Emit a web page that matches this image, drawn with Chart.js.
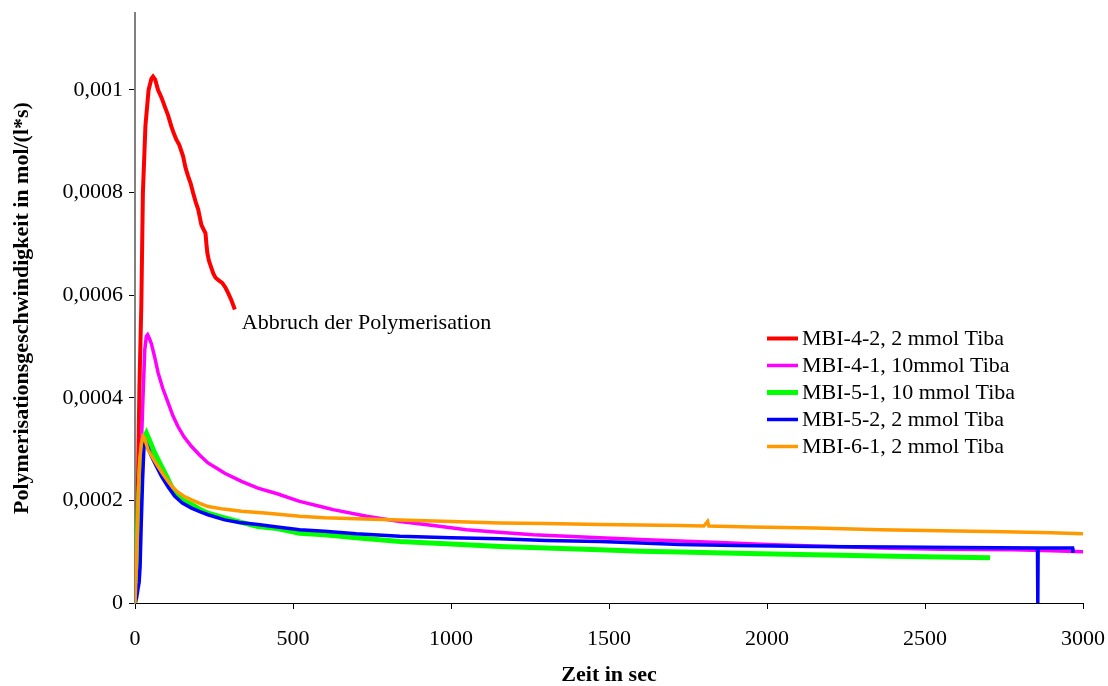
<!DOCTYPE html>
<html>
<head>
<meta charset="utf-8">
<script src="https://cdn.jsdelivr.net/npm/chart.js@4/dist/chart.umd.min.js"></script>
<style>
  html, body { margin: 0; padding: 0; background: #ffffff; }
  #wrap { width: 1108px; height: 686px; }
</style>
</head>
<body>
<div id="wrap"><canvas id="c" width="1108" height="686"></canvas></div>
<script>
// Reaktionszeit (s) und Polymerisationsgeschwindigkeit (mol/(l*s)) je Versuch
const mbi42X = [0, 4, 9, 14, 20, 25, 33, 43, 52, 57, 64, 73, 84, 94, 105, 115, 123, 131, 140, 152, 160, 168, 176, 184, 192, 200, 205, 210, 218, 223, 226, 229, 234, 240, 248, 255, 265, 276, 286, 295, 305, 316];
const mbi42Y = [0, 0.00005, 0.00022, 0.00042, 0.00058, 0.0008, 0.00093, 0.001, 0.001022, 0.001026, 0.00102, 0.001, 0.000985, 0.000968, 0.00095, 0.000929, 0.000915, 0.000903, 0.000893, 0.000871, 0.000848, 0.000832, 0.000818, 0.000799, 0.000782, 0.000767, 0.000752, 0.000737, 0.000727, 0.000721, 0.0007, 0.000682, 0.000667, 0.000656, 0.000642, 0.000634, 0.000629, 0.000624, 0.000615, 0.000604, 0.00059, 0.000572];

const mbi41X = [0, 4, 10, 17, 25, 31, 36, 40, 46, 52, 62, 73, 88, 105, 120, 136, 155, 179, 205, 231, 260, 284, 337, 389, 450, 521, 600, 627, 733, 838, 944, 1049, 1150, 1260, 1365, 1471, 1600, 1724, 1850, 2000, 2150, 2358, 2550, 2779, 2900, 3000];
const mbi41Y = [0, 0.00007, 0.00015, 0.00025, 0.000396, 0.000494, 0.00052, 0.000523, 0.000515, 0.000505, 0.00048, 0.000449, 0.000418, 0.00039, 0.000365, 0.000344, 0.000324, 0.000305, 0.000288, 0.000273, 0.000262, 0.000253, 0.000237, 0.000224, 0.000213, 0.000198, 0.000186, 0.000182, 0.000169, 0.000159, 0.000151, 0.000143, 0.000138, 0.000133, 0.00013, 0.000127, 0.000124, 0.000121, 0.000118, 0.000114, 0.000111, 0.000107, 0.000105, 0.000104, 0.000102, 0.0001];

const mbi51X = [0, 5, 10, 16, 22, 28, 36, 45, 62, 78, 94, 115, 136, 155, 179, 205, 231, 284, 337, 389, 450, 521, 600, 700, 838, 1000, 1154, 1300, 1471, 1600, 1724, 1900, 2147, 2400, 2600, 2706];
const mbi51Y = [0, 0.00008, 0.00018, 0.00026, 0.0003, 0.00032, 0.000331, 0.000318, 0.000293, 0.000273, 0.000254, 0.000228, 0.000208, 0.000199, 0.000192, 0.000183, 0.000175, 0.000166, 0.000157, 0.000149, 0.000145, 0.000136, 0.000133, 0.000127, 0.00012, 0.000115, 0.00011, 0.000107, 0.000104, 0.000101, 0.0000995, 0.000097, 0.000094, 0.000091, 0.000089, 0.000088];

const mbi52X = [0, 5, 10, 13, 16, 20, 24, 28, 33, 40, 52, 68, 84, 105, 126, 150, 179, 205, 231, 284, 330, 389, 450, 521, 600, 700, 838, 1000, 1154, 1300, 1471, 1600, 1724, 1900, 2147, 2400, 2600, 2856, 2857, 2858, 2967, 2968];
const mbi52Y = [0, 0.00001, 0.00003, 0.00004, 0.00007, 0.00016, 0.00024, 0.0003, 0.000315, 0.000305, 0.000286, 0.000266, 0.000247, 0.000226, 0.000208, 0.000195, 0.000185, 0.000178, 0.000172, 0.000162, 0.000157, 0.000153, 0.000148, 0.000143, 0.00014, 0.000135, 0.00013, 0.000127, 0.000125, 0.000122, 0.00012, 0.000117, 0.000114, 0.000112, 0.00011, 0.000109, 0.000108, 0.000107, 0, 0.000107, 0.000107, 0.000098];

const mbi61X = [0, 5, 10, 15, 20, 25, 30, 41, 57, 73, 90, 105, 120, 136, 155, 179, 205, 231, 280, 337, 420, 521, 600, 700, 838, 1000, 1154, 1300, 1471, 1600, 1724, 1800, 1812, 1816, 1950, 2150, 2358, 2550, 2750, 2900, 3000];
const mbi61Y = [0, 0.00008, 0.0002, 0.00028, 0.00031, 0.000325, 0.000322, 0.000299, 0.000282, 0.000266, 0.00025, 0.000237, 0.000225, 0.000216, 0.000208, 0.000201, 0.000194, 0.000188, 0.000183, 0.000179, 0.000175, 0.000169, 0.000166, 0.000164, 0.000162, 0.000159, 0.000156, 0.000155, 0.000153, 0.000152, 0.000151, 0.00015, 0.000159, 0.00015, 0.000148, 0.000146, 0.000143, 0.000141, 0.000139, 0.000137, 0.000135];

const seriesLabels = [
  'MBI-4-2, 2 mmol Tiba',
  'MBI-4-1, 10mmol Tiba',
  'MBI-5-1, 10 mmol Tiba',
  'MBI-5-2, 2 mmol Tiba',
  'MBI-6-1, 2 mmol Tiba'
];
const xTickValues = [0, 500, 1000, 1500, 2000, 2500, 3000];
const yTickValues = [0, 0.0002, 0.0004, 0.0006, 0.0008, 0.001];
const yTickLabels = ['0', '0,0002', '0,0004', '0,0006', '0,0008', '0,001'];
const noteText = 'Abbruch der Polymerisation';

const serif = "'Liberation Serif', 'Times New Roman', 'DejaVu Serif', serif";
const colors = ['#ff0000', '#ff00ff', '#00ff00', '#0000ff', '#ff9900'];
const widths = [4, 3.5, 5, 3.5, 3.5];

function pts(xs, ys) { return xs.map((x, i) => ({ x: x, y: ys[i] })); }
const seriesData = [
  pts(mbi42X, mbi42Y),
  pts(mbi41X, mbi41Y),
  pts(mbi51X, mbi51Y),
  pts(mbi52X, mbi52Y),
  pts(mbi61X, mbi61Y)
];

// Legend block and the note at the end of the first run, drawn on the canvas
const overlayPlugin = {
  id: 'overlay',
  afterDatasetsDraw(chart) {
    const ctx = chart.ctx;
    ctx.save();
    ctx.font = '22px ' + serif;
    ctx.fillStyle = '#000000';
    ctx.textBaseline = 'middle';
    ctx.textAlign = 'left';
    const lx = 767, rowTop = 338.5, rowGap = 27;
    chart.data.datasets.forEach((ds, i) => {
      const y = rowTop + i * rowGap;
      ctx.strokeStyle = ds.borderColor;
      ctx.lineWidth = ds.borderWidth;
      ctx.lineCap = 'butt';
      ctx.beginPath();
      ctx.moveTo(lx, y);
      ctx.lineTo(lx + 31, y);
      ctx.stroke();
      ctx.fillText(ds.label, lx + 35, y + 1);
    });
    // note placed just past the last point of the first series
    const xs = chart.scales.x, ys = chart.scales.y;
    const last = chart.data.datasets[0].data[chart.data.datasets[0].data.length - 1];
    const px = xs.getPixelForValue(last.x);
    const py = ys.getPixelForValue(last.y);
    ctx.textBaseline = 'alphabetic';
    ctx.fillText(noteText, px + 7, py + 19);
    ctx.restore();
  }
};

new Chart(document.getElementById('c'), {
  type: 'line',
  data: {
    datasets: seriesData.map((d, i) => ({
      label: seriesLabels[i],
      data: d,
      borderColor: colors[i],
      backgroundColor: colors[i],
      borderWidth: widths[i],
      pointRadius: 0,
      tension: 0,
      fill: false,
      order: 5 - i
    }))
  },
  options: {
    responsive: false,
    animation: false,
    devicePixelRatio: 1,
    layout: { padding: { top: 13, right: 25, left: 0, bottom: 0 } },
    plugins: { legend: { display: false }, tooltip: { enabled: false } },
    scales: {
      x: {
        type: 'linear',
        min: 0,
        max: 3000,
        afterFit(axis) { axis.height = 83; axis.paddingLeft = 0; axis.paddingRight = 0; },
        afterBuildTicks(axis) { axis.ticks = xTickValues.map(v => ({ value: v })); },
        border: { display: true, color: '#000000', width: 1 },
        grid: { drawOnChartArea: false, drawTicks: true, tickLength: 6, color: '#000000', lineWidth: 1 },
        ticks: {
          autoSkip: false,
          maxRotation: 0,
          padding: 17,
          color: '#000000',
          font: { family: serif, size: 22 },
          callback: (v) => String(v)
        },
        title: {
          display: true,
          text: 'Zeit in sec',
          color: '#000000',
          font: { family: serif, size: 22, weight: 'bold', lineHeight: 1 },
          padding: { top: 0, bottom: 0 }
        }
      },
      y: {
        type: 'linear',
        min: 0,
        max: 0.00115,
        afterFit(axis) { axis.width = 135; axis.paddingTop = 0; axis.paddingBottom = 0; },
        afterBuildTicks(axis) { axis.ticks = yTickValues.map(v => ({ value: v })); },
        border: { display: true, color: '#808080', width: 2 },
        grid: { drawOnChartArea: false, drawTicks: true, tickLength: 6, color: '#000000', lineWidth: 1 },
        ticks: {
          padding: 6,
          color: '#000000',
          font: { family: serif, size: 22 },
          callback: (v) => {
            const k = yTickValues.findIndex(t => Math.abs(t - v) < 1e-9);
            return k >= 0 ? yTickLabels[k] : '';
          }
        },
        title: {
          display: true,
          text: 'Polymerisationsgeschwindigkeit in mol/(l*s)',
          color: '#000000',
          font: { family: serif, size: 22, weight: 'bold', lineHeight: 1 },
          padding: { top: 11, bottom: 0 }
        }
      }
    }
  },
  plugins: [overlayPlugin]
});
</script>
</body>
</html>
